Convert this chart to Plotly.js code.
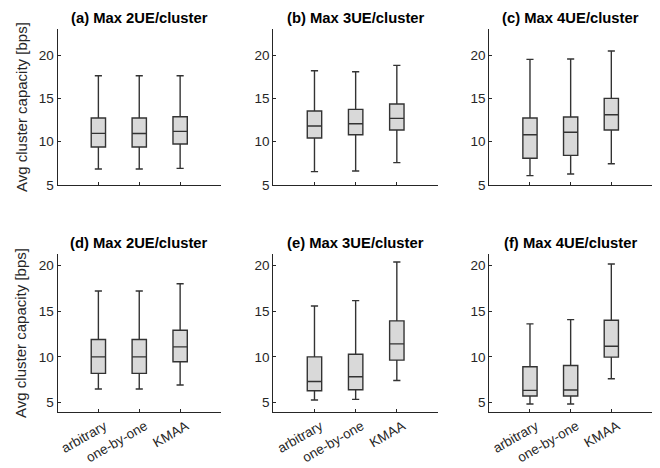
<!DOCTYPE html>
<html><head><meta charset="utf-8">
<script src="https://cdn.plot.ly/plotly-3.0.1.min.js"></script>
<style>html,body{margin:0;padding:0;background:#fff}</style>
</head><body><div id="chart" style="width:660px;height:468px"></div>
<script>
const categories = ['arbitrary', 'one-by-one', 'KMAA'];
const panelTitles = ['(a) Max 2UE/cluster', '(b) Max 3UE/cluster', '(c) Max 4UE/cluster',
                     '(d) Max 2UE/cluster', '(e) Max 3UE/cluster', '(f) Max 4UE/cluster'];
const yTitle = 'Avg cluster capacity [bps]';
const yTickVals = [5, 10, 15, 20];

// panel (a)
const a_max = [17.6, 17.6, 17.6];
const a_q3  = [12.73, 12.73, 12.88];
const a_med = [10.96, 10.95, 11.19];
const a_q1  = [9.38, 9.38, 9.73];
const a_min = [6.85, 6.85, 6.92];
// panel (b)
const b_max = [18.19, 18.07, 18.8];
const b_q3  = [13.54, 13.73, 14.34];
const b_med = [11.8, 12.07, 12.69];
const b_q1  = [10.42, 10.8, 11.35];
const b_min = [6.54, 6.62, 7.58];
// panel (c)
const c_max = [19.5, 19.53, 20.46];
const c_q3  = [12.73, 12.84, 15.0];
const c_med = [10.8, 11.08, 13.11];
const c_q1  = [8.08, 8.42, 11.35];
const c_min = [6.08, 6.27, 7.46];
// panel (d)
const d_max = [17.2, 17.2, 18.0];
const d_q3  = [11.9, 11.9, 12.92];
const d_med = [10.01, 10.01, 11.1];
const d_q1  = [8.2, 8.2, 9.47];
const d_min = [6.49, 6.49, 6.93];
// panel (e)
const e_max = [15.57, 16.15, 20.37];
const e_q3  = [10.01, 10.3, 13.94];
const e_med = [7.32, 7.83, 11.43];
const e_q1  = [6.31, 6.42, 9.65];
const e_min = [5.29, 5.36, 7.43];
// panel (f)
const f_max = [13.61, 14.08, 20.15];
const f_q3  = [8.92, 9.07, 14.0];
const f_med = [6.34, 6.38, 11.17];
const f_q1  = [5.73, 5.73, 9.98];
const f_min = [4.85, 4.85, 7.62];

const panels = [
  [a_min, a_q1, a_med, a_q3, a_max],
  [b_min, b_q1, b_med, b_q3, b_max],
  [c_min, c_q1, c_med, c_q3, c_max],
  [d_min, d_q1, d_med, d_q3, d_max],
  [e_min, e_q1, e_med, e_q3, e_max],
  [f_min, f_q1, f_med, f_q3, f_max]
];

const W = 660, H = 468;
const colPx = [[57.5, 221], [273.3, 438], [489.3, 652]];
const rowPx = [[29, 185], [253.5, 412.3]];
const rowRange = [[5, 23], [3.95, 21.3]];
const axisColor = '#262626';
const fontFam = 'Liberation Sans, Arial, Helvetica, sans-serif';

const data = [];
const layout = {
  width: W, height: H,
  margin: {l: 0, r: 0, t: 0, b: 0},
  paper_bgcolor: '#fff', plot_bgcolor: '#fff',
  showlegend: false,
  font: {family: fontFam, color: axisColor, size: 13},
  annotations: []
};

panels.forEach((p, i) => {
  const r = Math.floor(i / 3), c = i % 3;
  const n = i + 1;
  const xa = 'x' + (n === 1 ? '' : n), ya = 'y' + (n === 1 ? '' : n);
  data.push({
    type: 'box', x: categories, xaxis: xa, yaxis: ya,
    lowerfence: p[0], q1: p[1], median: p[2], q3: p[3], upperfence: p[4],
    width: 0.35, whiskerwidth: 0.5, boxpoints: false,
    fillcolor: '#d9d9d9', line: {color: '#333333', width: 1.4},
    hoverinfo: 'skip'
  });
  const xd = [colPx[c][0] / W, colPx[c][1] / W];
  const yd = [(H - rowPx[r][1]) / H, (H - rowPx[r][0]) / H];
  layout['xaxis' + (n === 1 ? '' : n)] = {
    domain: xd, anchor: ya, type: 'category',
    range: [-1, 3], showgrid: false, zeroline: false,
    showline: true, linecolor: axisColor, linewidth: 1,
    ticks: 'inside', ticklen: 3, tickcolor: axisColor,
    showticklabels: r === 1, tickangle: -30, ticklabelshift: 6,
    tickfont: {size: 13.5, color: axisColor, family: fontFam}
  };
  layout['yaxis' + (n === 1 ? '' : n)] = {
    domain: yd, anchor: xa, range: rowRange[r],
    tickvals: yTickVals, showgrid: false, zeroline: false,
    showline: true, linecolor: axisColor, linewidth: 1,
    ticks: 'inside', ticklen: 3, tickcolor: axisColor,
    tickfont: {size: 13.5, color: axisColor, family: fontFam}
  };
  layout.annotations.push({
    text: '<b>' + panelTitles[i] + '</b>', xref: 'paper', yref: 'paper',
    x: (xd[0] + xd[1]) / 2, y: yd[1], xanchor: 'center', yanchor: 'bottom',
    yshift: 1, showarrow: false,
    font: {size: 14.8, color: '#000', family: fontFam}
  });
  if (c === 0) {
    layout.annotations.push({
      text: yTitle, xref: 'paper', yref: 'paper', textangle: -90,
      x: 21 / W, y: (yd[0] + yd[1]) / 2, xanchor: 'center', yanchor: 'middle',
      showarrow: false, font: {size: 15, color: axisColor, family: fontFam}
    });
  }
});

Plotly.newPlot('chart', data, layout, {staticPlot: true, displayModeBar: false});
</script></body></html>
